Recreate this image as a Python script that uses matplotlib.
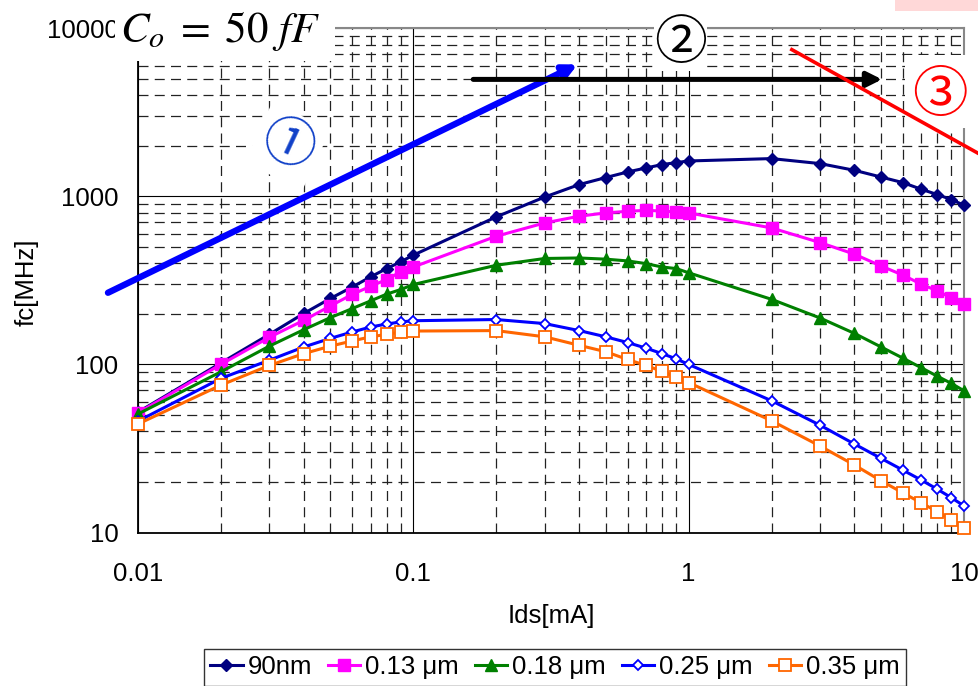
import matplotlib
matplotlib.use("Agg")
import matplotlib.pyplot as plt
from matplotlib.patches import Rectangle
from matplotlib.ticker import FixedLocator, NullFormatter, LogLocator

plt.rcParams['font.family'] = ['Liberation Sans', 'DejaVu Sans']
plt.rcParams['mathtext.fontset'] = 'stix'

# ---------------- data ----------------
ids_ma = [0.01, 0.02, 0.03, 0.04, 0.05, 0.06, 0.07, 0.08, 0.09, 0.1,
          0.2, 0.3, 0.4, 0.5, 0.6, 0.7, 0.8, 0.9, 1.0,
          2, 3, 4, 5, 6, 7, 8, 9, 10]

fc_90nm = [52, 102, 151, 201, 247, 289, 332, 372, 408, 447,
           755, 991, 1175, 1294, 1397, 1476, 1545, 1588, 1624,
           1678, 1567, 1429, 1303, 1207, 1102, 1025, 957, 885]
fc_013 = [51.5, 100, 145, 183, 223, 261, 292, 320, 356, 380,
          579, 695, 762, 797, 815, 826, 818, 807, 797,
          649, 531, 453, 385, 340, 300, 274, 249, 228]
fc_018 = [50.7, 90.4, 128.5, 161, 190, 215, 239, 262, 279, 299,
          389, 427, 430, 423, 413, 398, 380, 372, 351,
          244, 189, 153, 127, 109, 95.5, 85.1, 77.1, 69.7]
fc_025 = [46, 82.6, 106, 127, 143, 156, 167, 174, 179, 182,
          185, 175, 159, 146, 135, 125, 116, 108, 100,
          60.8, 43.5, 33.6, 27.6, 23.5, 20.5, 18.1, 16.1, 14.4]
fc_035 = [44.2, 75.3, 98.6, 116, 128.5, 138, 146, 151, 156, 158,
          159, 146, 130, 119, 107, 98.6, 91, 84, 78,
          46.2, 32.7, 25.2, 20.3, 17.2, 15.0, 13.3, 11.9, 10.6]

series_labels = ["90nm", "0.13 μm", "0.18 μm", "0.25 μm", "0.35 μm"]
x_ticks = [0.01, 0.1, 1, 10]
x_ticklabels = ["0.01", "0.1", "1", "10"]
y_ticks = [10, 100, 1000, 10000]
y_ticklabels = ["10", "100", "1000", "10000"]

# annotation guides (data coordinates)
arrow1_start = (0.00778, 267)
arrow1_end = (0.395, 6095)
arrow2_start = (0.165, 4966)
arrow2_end = (5.04, 4966)
line3_start = (2.37, 7465)
line3_end = (12.5, 1640)
label1_pos = (0.0349, 1995)
label2_pos = (0.935, 8070)
label3_pos = (8.18, 3950)

# ---------------- figure ----------------
W, H = 979, 686
fig = plt.figure(figsize=(W / 100, H / 100), dpi=100)
ax = fig.add_axes([138 / W, 1 - 532.5 / H, (964 - 138) / W, (532.5 - 28.3) / H])
ax.set_xscale('log')
ax.set_yscale('log')
ax.set_xlim(0.01, 10)
ax.set_ylim(10, 10000)
ax.set_axisbelow(True)

styles = [
    dict(color='#000080', marker='D', ms=6.5, mfc='#000080', mec='#000080'),
    dict(color='#ff00ff', marker='s', ms=8.0, mfc='#ff00ff', mec='#ff00ff'),
    dict(color='#008000', marker='^', ms=8.0, mfc='#008000', mec='#008000'),
    dict(color='#0000ff', marker='D', ms=5.6, mfc='white', mec='#0000ff', mew=1.3),
    dict(color='#ff6600', marker='s', ms=8.0, mfc='white', mec='#ff6600', mew=1.3),
]
for vals, lab, st in zip([fc_90nm, fc_013, fc_018, fc_025, fc_035], series_labels, styles):
    ax.plot(ids_ma, vals, lw=2.2, label=lab, zorder=3, clip_on=False, **st)

# grid
ax.xaxis.set_major_locator(FixedLocator(x_ticks))
ax.yaxis.set_major_locator(FixedLocator(y_ticks))
ax.xaxis.set_minor_locator(LogLocator(base=10, subs=[2, 3, 4, 5, 6, 7, 8, 9]))
ax.yaxis.set_minor_locator(LogLocator(base=10, subs=[2, 3, 4, 5, 6, 7, 8, 9]))
ax.xaxis.set_minor_formatter(NullFormatter())
ax.yaxis.set_minor_formatter(NullFormatter())
ax.set_xticklabels(x_ticklabels)
ax.set_yticklabels(y_ticklabels)
ax.grid(True, which='major', color='black', lw=0.8, ls='-')
ax.grid(True, which='minor', color='#222222', lw=0.9, ls=(0, (8, 5)))
ax.tick_params(which='both', length=0)
ax.tick_params(axis='x', labelsize=18.5, pad=21)
ax.tick_params(axis='y', labelsize=18.5, pad=14)

for side in ['left', 'bottom']:
    ax.spines[side].set_color('black')
    ax.spines[side].set_linewidth(1.3)
for side in ['top', 'right']:
    ax.spines[side].set_color('#888888')
    ax.spines[side].set_linewidth(1.5)
for sp in ax.spines.values():
    sp.set_zorder(0.6)

ax.set_xlabel('Ids[mA]', fontsize=18.5)
ax.xaxis.set_label_coords(0.5, (532.5 - 616) / 504.2)
ax.xaxis.label.set_va('center')
ax.set_ylabel('fc[MHz]', fontsize=18.5)
ax.yaxis.set_label_coords((27 - 138) / 826, (532.5 - 282) / 504.2)
ax.yaxis.label.set_va('center')


def px_rect(x0, y0, x1, y1, color='white', z=1.0):
    r = Rectangle((x0 / W, 1 - y1 / H), (x1 - x0) / W, (y1 - y0) / H,
                  transform=fig.transFigure, facecolor=color, edgecolor='none',
                  zorder=z, clip_on=False)
    ax.add_artist(r)


# white masks (text boxes in the original)
px_rect(115, 0, 335, 61)
px_rect(905, 55, 979, 128)
px_rect(895, 0, 979, 11, color='#ffd8d8')

# annotations
ax.annotate('', xy=arrow1_end, xytext=arrow1_start, annotation_clip=False,
            arrowprops=dict(arrowstyle='-|>', lw=4.6, color='#0000ff',
                            mutation_scale=20, shrinkA=0, shrinkB=0), zorder=4)
ax.annotate('', xy=arrow2_end, xytext=arrow2_start, annotation_clip=False,
            arrowprops=dict(arrowstyle='-|>', lw=3.6, color='black',
                            mutation_scale=22, shrinkA=0, shrinkB=0), zorder=4)
ax.plot([line3_start[0], line3_end[0]], [line3_start[1], line3_end[1]],
        color='#ff0000', lw=2.6, clip_on=False, zorder=4)

circ_font = ['Noto Sans CJK JP', 'DejaVu Sans']
ax.text(*label1_pos, '①', fontsize=38, color='#1040c8', family=circ_font,
        ha='center', va='center', rotation=-25, zorder=1.5,
        bbox=dict(facecolor='white', edgecolor='none', pad=4))
ax.text(*label2_pos, '②', fontsize=38, color='black', family=circ_font,
        ha='center', va='center', zorder=1.5, clip_on=False,
        bbox=dict(facecolor='white', edgecolor='none', pad=0))
ax.text(*label3_pos, '③', fontsize=40, color='#ff0000', family=circ_font,
        ha='center', va='center', zorder=1.5, clip_on=False)

fig.text(120 / W, 1 - 42 / H, r'$C_o\;=\;50\ fF$', fontsize=31,
         ha='left', va='baseline', zorder=5)

leg = fig.legend(loc='upper left', bbox_to_anchor=(204 / W, 1 - 649 / H),
                 ncol=5, fontsize=18.5, frameon=True, fancybox=False,
                 edgecolor='black', handlelength=1.25, handletextpad=0.2,
                 columnspacing=0.62, borderpad=0.25, borderaxespad=0)
leg.get_frame().set_linewidth(1.0)

fig.savefig('out.png', dpi=100, facecolor='white')
